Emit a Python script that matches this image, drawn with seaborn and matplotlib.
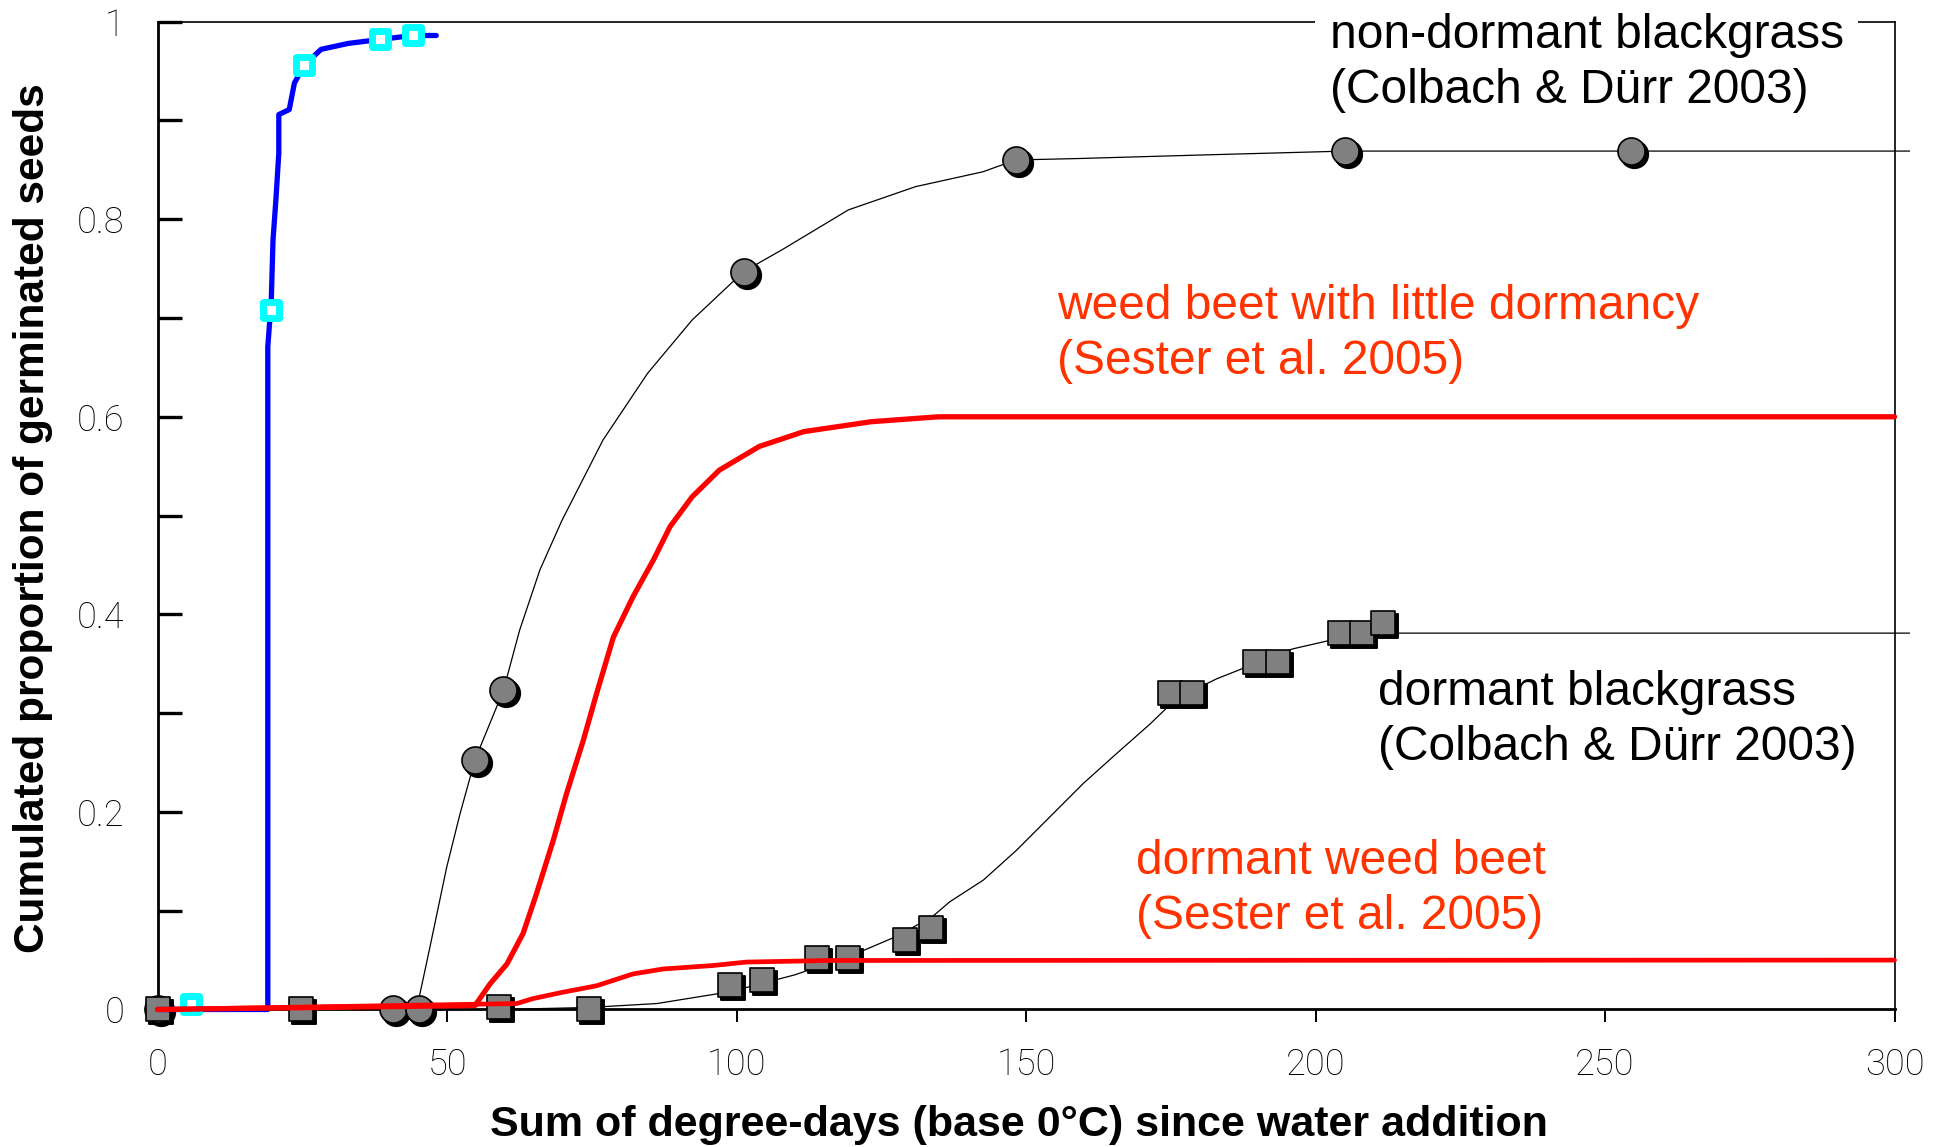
import numpy as np
import pandas as pd
import seaborn as sns
import matplotlib.pyplot as plt
from matplotlib.transforms import ScaledTranslation

# non-dormant weed beet (blue fitted curve + cyan observations)
blue_x = [0, 19.0, 19.0, 19.6, 19.9, 20.4, 20.9, 20.9, 22.7, 23.6, 25.3, 28.2, 32.9, 38.4, 44.0, 48.1]
blue_y = [0, 0, 0.671, 0.718, 0.779, 0.82, 0.867, 0.906, 0.911, 0.938, 0.956, 0.972, 0.978, 0.982, 0.986, 0.986]
cyan_x = [5.7, 19.5, 25.3, 38.4, 44.0]
cyan_y = [0.006, 0.708, 0.956, 0.982, 0.987]

# non-dormant blackgrass (Colbach & Dürr 2003)
nd_curve_x = [44.7, 47.0, 49.9, 52.2, 54.8, 59.7, 62.5, 66.0, 69.8, 76.9, 84.6, 92.3, 101.2,
              107.8, 119.3, 130.9, 142.5, 148.2, 159.3, 180.0, 205.1, 254.5, 302.6]
nd_curve_y = [0.0, 0.063, 0.144, 0.198, 0.253, 0.323, 0.384, 0.445, 0.495, 0.5765, 0.644, 0.698, 0.747,
              0.769, 0.8095, 0.833, 0.848, 0.86, 0.8615, 0.865, 0.869, 0.869, 0.869]
nd_obs_x = [0, 40.6, 45.1, 54.8, 59.7, 101.2, 148.2, 205.1, 254.5]
nd_obs_y = [0, 0, 0, 0.253, 0.323, 0.747, 0.86, 0.869, 0.869]

# dormant blackgrass (Colbach & Dürr 2003)
db_curve_x = [59.0, 74.4, 86.2, 98.9, 110.0, 120.0, 128.0, 134.0, 136.8, 142.6, 148.3, 154.1, 159.9,
              165.6, 171.4, 176.0, 183.0, 189.5, 196.0, 204.2, 211.6, 223.2, 302.6]
db_curve_y = [0, 0.002, 0.006, 0.018, 0.035, 0.055, 0.075, 0.095, 0.109, 0.131, 0.161, 0.195, 0.229,
              0.259, 0.289, 0.315, 0.335, 0.35, 0.365, 0.376, 0.381, 0.381, 0.381]
db_obs_x = [0, 24.8, 59.0, 74.4, 98.9, 104.3, 113.9, 119.3, 129.0, 133.6,
            174.8, 178.6, 189.5, 193.5, 204.2, 208.0, 211.6]
db_obs_y = [0, 0, 0.003, 0, 0.0248, 0.030, 0.052, 0.052, 0.070, 0.082,
            0.32, 0.32, 0.352, 0.352, 0.381, 0.381, 0.391]

# weed beet with little dormancy (Sester et al. 2005)
wb_x = [0, 54.8, 57.4, 60.3, 63.1, 65.4, 68.3, 70.6, 73.5, 75.8, 78.7, 82.1, 85.6, 88.5,
        92.3, 97.0, 103.9, 111.6, 123.2, 134.8, 300]
wb_y = [0, 0.004, 0.026, 0.046, 0.077, 0.117, 0.171, 0.2185, 0.2725, 0.32, 0.377, 0.418, 0.455, 0.489,
        0.519, 0.546, 0.570, 0.585, 0.595, 0.600, 0.600]

# dormant weed beet (Sester et al. 2005)
dwb_x = [0, 62.0, 64.8, 70.0, 75.8, 82.1, 87.3, 95.9, 101.7, 116.1, 300]
dwb_y = [0, 0.006, 0.011, 0.0175, 0.024, 0.036, 0.041, 0.0445, 0.048, 0.0496, 0.05]

xticks = [0, 50, 100, 150, 200, 250, 300]
yticks = [0, 0.2, 0.4, 0.6, 0.8, 1.0]
ytick_labels = ['0', '0.2', '0.4', '0.6', '0.8', '1']

labels = [
    ("non-dormant blackgrass\n(Colbach & Dürr 2003)", 202.4, 0.958, 'black'),
    ("weed beet with little dormancy\n(Sester et al. 2005)", 155.3, 0.684, '#ff3300'),
    ("dormant blackgrass\n(Colbach & Dürr 2003)", 210.7, 0.293, 'black'),
    ("dormant weed beet\n(Sester et al. 2005)", 169.0, 0.122, '#ff3300'),
]

sns.set_style('white')
plt.rcParams['font.family'] = ['Liberation Sans', 'DejaVu Sans']

fig = plt.figure(figsize=(19.34, 11.47), dpi=100)
ax = fig.add_axes([0.0816, 0.1199, 0.898, 0.8612])

# shadow offset for the grey markers
shadow = ax.transData + ScaledTranslation(3 / 100, -3 / 100, fig.dpi_scale_trans)

# black fitted curves
sns.lineplot(x=nd_curve_x, y=nd_curve_y, sort=False, estimator=None, color='black', lw=0.9,
             ax=ax, clip_on=False, zorder=2)
sns.lineplot(x=db_curve_x, y=db_curve_y, sort=False, estimator=None, color='black', lw=0.9,
             ax=ax, clip_on=False, zorder=2)

# grey observations with black drop shadow
sns.scatterplot(x=nd_obs_x, y=nd_obs_y, marker='o', s=380, color='black', edgecolor='black',
                transform=shadow, ax=ax, clip_on=False, zorder=3)
sns.scatterplot(x=nd_obs_x, y=nd_obs_y, marker='o', s=380, color='#808080', edgecolor='black',
                linewidth=1.2, ax=ax, clip_on=False, zorder=3.1)
sns.scatterplot(x=db_obs_x, y=db_obs_y, marker='s', s=300, color='black', edgecolor='black',
                transform=shadow, ax=ax, clip_on=False, zorder=3)
sns.scatterplot(x=db_obs_x, y=db_obs_y, marker='s', s=300, color='#808080', edgecolor='black',
                linewidth=1.2, ax=ax, clip_on=False, zorder=3.1)

# blue curve and cyan squares
sns.lineplot(x=blue_x, y=blue_y, sort=False, estimator=None, color='#0000ff', lw=3.8,
             ax=ax, clip_on=False, zorder=4)
sns.scatterplot(x=cyan_x, y=cyan_y, marker='s', s=120, color='white', edgecolor='#00ffff',
                linewidth=5, ax=ax, clip_on=False, zorder=5)

# red weed beet curves
sns.lineplot(x=wb_x, y=wb_y, sort=False, estimator=None, color='#ff0000', lw=3.8,
             ax=ax, clip_on=False, zorder=6)
sns.lineplot(x=dwb_x, y=dwb_y, sort=False, estimator=None, color='#ff0000', lw=3.4,
             ax=ax, clip_on=False, zorder=9)

for txt, x, y, c in labels:
    ax.text(x, y, txt, color=c, fontsize=34.5, va='center', ha='left', linespacing=1.3,
            zorder=8, bbox=dict(boxstyle='square,pad=0.3', facecolor='white', edgecolor='none'))

ax.set_xlim(0, 300)
ax.set_ylim(0, 1)
ax.set_xticks(xticks)
ax.set_xticklabels([str(v) for v in xticks])
ax.set_yticks(yticks)
ax.set_yticklabels(ytick_labels)
ax.set_yticks(np.arange(0.1, 1.0, 0.2), minor=True)

ax.tick_params(axis='y', which='both', direction='in', length=17, width=2.4, pad=24,
               labelsize=26, left=True, color='black', labelcolor='black')
ax.tick_params(axis='x', which='major', direction='out', length=9, width=1.4, pad=18,
               labelsize=26, bottom=True, color='black', labelcolor='black')
for lbl in ax.get_xticklabels() + ax.get_yticklabels():
    lbl.set_fontfamily(['Roboto', 'Liberation Sans'])
    lbl.set_fontweight('light')

ax.spines['left'].set_linewidth(2.0)
ax.spines['bottom'].set_linewidth(2.0)
ax.spines['top'].set_linewidth(1.2)
ax.spines['right'].set_linewidth(1.2)
for sp in ax.spines.values():
    sp.set_color('black')
    sp.set_zorder(1)

ax.set_xlabel('Sum of degree-days (base 0°C) since water addition', fontsize=31,
              fontweight='bold', color='black')
ax.set_ylabel('Cumulated proportion of germinated seeds', fontsize=30.5,
              fontweight='bold', color='black')
ax.xaxis.set_label_coords(0.496, -0.117)
ax.yaxis.set_label_coords(-0.072, 0.4975)
ax.xaxis.label.set_va('center')
ax.yaxis.label.set_va('center')

fig.savefig('out.png', dpi=100, facecolor='white')
